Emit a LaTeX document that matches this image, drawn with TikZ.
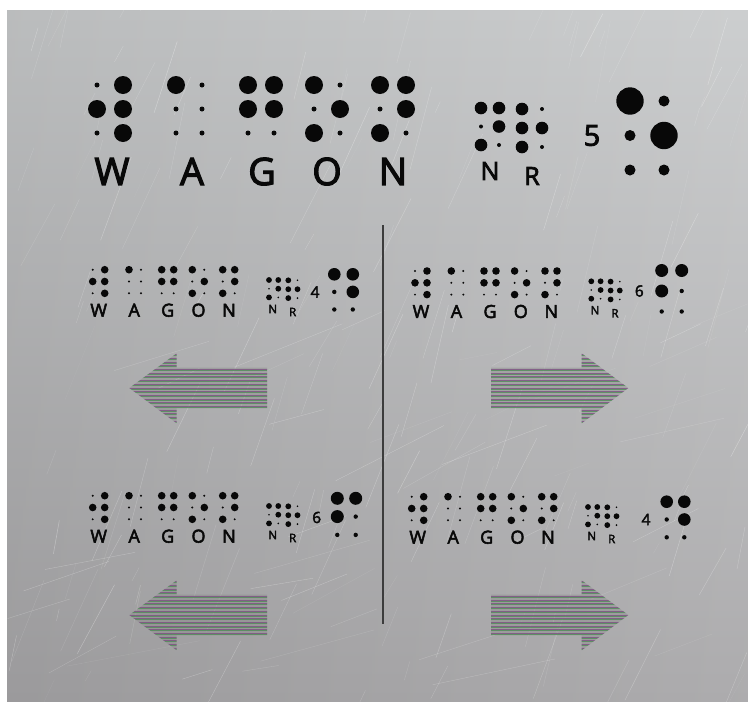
\documentclass[tikz,border=0pt]{standalone}
\usepackage{fontspec}
\setmainfont{Open Sans}
\newfontfamily\lettfont{Open Sans}[FakeBold=3]
\definecolor{dotc}{HTML}{080808}
\definecolor{stripeM}{HTML}{7A4A80}
\definecolor{stripeG}{HTML}{4A8A52}
\definecolor{plateTop}{HTML}{C9CBCC}
\definecolor{plateBot}{HTML}{A7A6A8}
\definecolor{divc}{HTML}{3C3C3C}
\tikzset{
  lettr/.style={inner sep=0pt, text=dotc},
  bigL/.style={lettr, font=\lettfont\fontsize{37.8}{40}\selectfont},
  midL/.style={lettr, font=\lettfont\fontsize{25}{27}\selectfont},
  numBig/.style={lettr, font=\lettfont\fontsize{29}{31}\selectfont},
  smallL/.style={lettr, font=\lettfont\fontsize{18}{20}\selectfont},
  tinyL/.style={lettr, font=\lettfont\fontsize{11.6}{13}\selectfont},
  numSmall/.style={lettr, font=\lettfont\fontsize{15.4}{17}\selectfont},
  divider/.style={draw=divc, line width=1.2pt},
  scratch/.style={white, line cap=round},
  arrowbase/.style={fill=black!50, fill opacity=0.35},
}
% x y dx dy Rbig rsmall pattern(dots 1..6)
\newcommand\brcell[7]{%
  \foreach \bv [count=\bi from 0] in {#7} {%
    \pgfmathtruncatemacro\bcol{\bi>2 ? 1 : 0}%
    \pgfmathtruncatemacro\brow{mod(\bi,3)}%
    \ifnum\bv=1
      \fill[dotc] ({#1+\bcol*#3},{#2+\brow*#4}) circle[radius=#5pt];
    \else
      \fill[dotc] ({#1+\bcol*#3},{#2+\brow*#4}) circle[radius=#6pt];
    \fi
  }%
}
% small group: #1 x0 #2 y0 #3 prefix
\newcommand\smallword[3]{%
  \brcell{#1}{#2}{12}{11.8}{3.8}{1.1}{0,1,0,1,1,1}
  \brcell{#1+36.3}{#2}{12}{11.8}{3.8}{1.1}{1,0,0,0,0,0}
  \brcell{#1+69}{#2}{12}{11.8}{3.8}{1.1}{1,1,0,1,1,0}
  \brcell{#1+99.6}{#2}{12}{11.8}{3.8}{1.1}{1,0,1,0,1,0}
  \brcell{#1+130}{#2}{12}{11.8}{3.8}{1.1}{1,0,1,1,1,0}
  \node[smallL] (#3W) at ({#1+6},{#2+40.5}) {W};
  \node[smallL] (#3A) at ({#1+41.5},{#2+40.5}) {A};
  \node[smallL] (#3G) at ({#1+75},{#2+40.5}) {G};
  \node[smallL] (#3O) at ({#1+105.8},{#2+40.5}) {O};
  \node[smallL] (#3N) at ({#1+136.3},{#2+40.5}) {N};
  \brcell{#1+176.3}{#2+10.3}{9.3}{8.7}{2.9}{0.9}{1,0,1,1,1,0}
  \brcell{#1+195.6}{#2+10.6}{9.2}{8.9}{2.9}{0.9}{1,1,1,0,1,0}
  \node[tinyL] (#3n) at ({#1+180},{#2+39.3}) {N};
  \node[tinyL] (#3r) at ({#1+200},{#2+42.3}) {R};
}
\newcommand\stripes[2]{% x from, x to
  \foreach \yy in {351,354.7,...,426} {
    \draw[stripeM, line width=0.95pt, opacity=0.75] (#1,\yy) -- (#2,\yy);
    \draw[stripeG, line width=0.95pt, opacity=0.75] (#1,\yy+1.05) -- (#2,\yy+1.05);
  }%
}
\begin{document}
\begin{tikzpicture}[x=1pt,y=-1pt]
\useasboundingbox (0,0) rectangle (748,702);
% plate
\shade[top color=plateTop, bottom color=plateBot] (7,10) rectangle (748,702);
\shade[left color=black, right color=white, opacity=0.07] (7,10) rectangle (748,702);
\begin{scope}
  \clip (7,10) rectangle (748,702);
  \pgfmathsetseed{4711}
  \foreach \k in {1,...,170} {
    \pgfmathsetmacro\sx{7+741*rnd}
    \pgfmathsetmacro\sy{10+720*rnd}
    \pgfmathsetmacro\sl{10+80*rnd}
    \pgfmathsetmacro\sa{58+22*rnd}
    \pgfmathsetmacro\so{0.08+0.25*rnd}
    \pgfmathsetmacro\sw{0.2+0.35*rnd}
    \draw[scratch, opacity=\so, line width=\sw pt] (\sx,\sy) -- ++({\sl*cos(\sa)},{-\sl*sin(\sa)});
  }
  \foreach \k in {1,...,40} {
    \pgfmathsetmacro\sx{7+741*rnd}
    \pgfmathsetmacro\sy{300+400*rnd}
    \pgfmathsetmacro\sl{30+110*rnd}
    \pgfmathsetmacro\sa{8+22*rnd}
    \pgfmathsetmacro\so{0.08+0.25*rnd}
    \draw[scratch, opacity=\so, line width=0.35pt] (\sx,\sy) -- ++({\sl*cos(\sa)},{-\sl*sin(\sa)});
  }
\end{scope}

% ===== big top group =====
\brcell{97}{85}{26}{24}{9}{2.5}{0,1,0,1,1,1}
\brcell{176}{85}{26}{24}{9}{2.5}{1,0,0,0,0,0}
\brcell{248}{85}{26}{24}{9}{2.5}{1,1,0,1,1,0}
\brcell{314}{85}{26}{24}{9}{2.5}{1,0,1,0,1,0}
\brcell{380}{85}{26}{24}{9}{2.5}{1,0,1,1,1,0}
\node[bigL] (bW) at (112,171.5) {W};
\node[bigL] (bA) at (192,171.5) {A};
\node[bigL] (bG) at (262,171.5) {G};
\node[bigL] (bO) at (327,171.5) {O};
\node[bigL] (bN) at (393,171.5) {N};
\brcell{481}{108}{18}{18.5}{6.3}{2}{1,0,1,1,1,0}
\brcell{522}{109}{20}{19}{6.3}{2}{1,1,1,0,1,0}
\node[midL] (bn) at (490,171) {N};
\node[midL] (br) at (532,176) {R};
\node[numBig] (b5) at (592,135.5) {5};
\brcell{630}{101}{34}{34.5}{13.7}{5.5}{1,0,0,0,1,0}

% ===== quadrants =====
\smallword{92.7}{269.7}{tl}
\node[numSmall] (tl4) at (315,292) {4};
\brcell{334.3}{274.3}{18.5}{17.6}{6.3}{2.2}{1,0,0,1,1,0}

\smallword{415}{271}{tr}
\node[numSmall] (tr6) at (639.3,291) {6};
\brcell{661.7}{270.5}{20}{20.5}{6.5}{2.2}{1,1,0,1,0,0}

\smallword{92.7}{495.7}{bl}
\node[numSmall] (bl6) at (316.7,517.5) {6};
\brcell{337.3}{498.3}{18.4}{18.3}{6.5}{2.2}{1,1,0,1,0,0}

\smallword{411.7}{496.7}{br}
\node[numSmall] (br4) at (646,519.5) {4};
\brcell{666.7}{501.7}{17.6}{17.8}{6.3}{2.2}{1,0,0,1,1,0}

% ===== divider =====
\coordinate (divTop) at (383,225);
\coordinate (divBot) at (383,624);
\draw[divider] (divTop) -- (divBot);

% ===== striped arrows =====
\foreach \dy in {0,227} {
  \begin{scope}[shift={(0,\dy)}]
    \begin{scope}
      \clip (129.3,388) -- (176.7,353.3) -- (176.7,367.7) -- (267,367.7) -- (267,408.3) -- (176.7,408.3) -- (176.7,423.3) -- cycle;
      \fill[arrowbase] (120,350) rectangle (280,430);
      \stripes{120}{280}
    \end{scope}
    \begin{scope}
      \clip (628.3,388) -- (581.7,353.3) -- (581.7,367.7) -- (491,367.7) -- (491,408.3) -- (581.7,408.3) -- (581.7,423.3) -- cycle;
      \fill[arrowbase] (480,350) rectangle (640,430);
      \stripes{480}{640}
    \end{scope}
  \end{scope}
}
\end{tikzpicture}
\end{document}
